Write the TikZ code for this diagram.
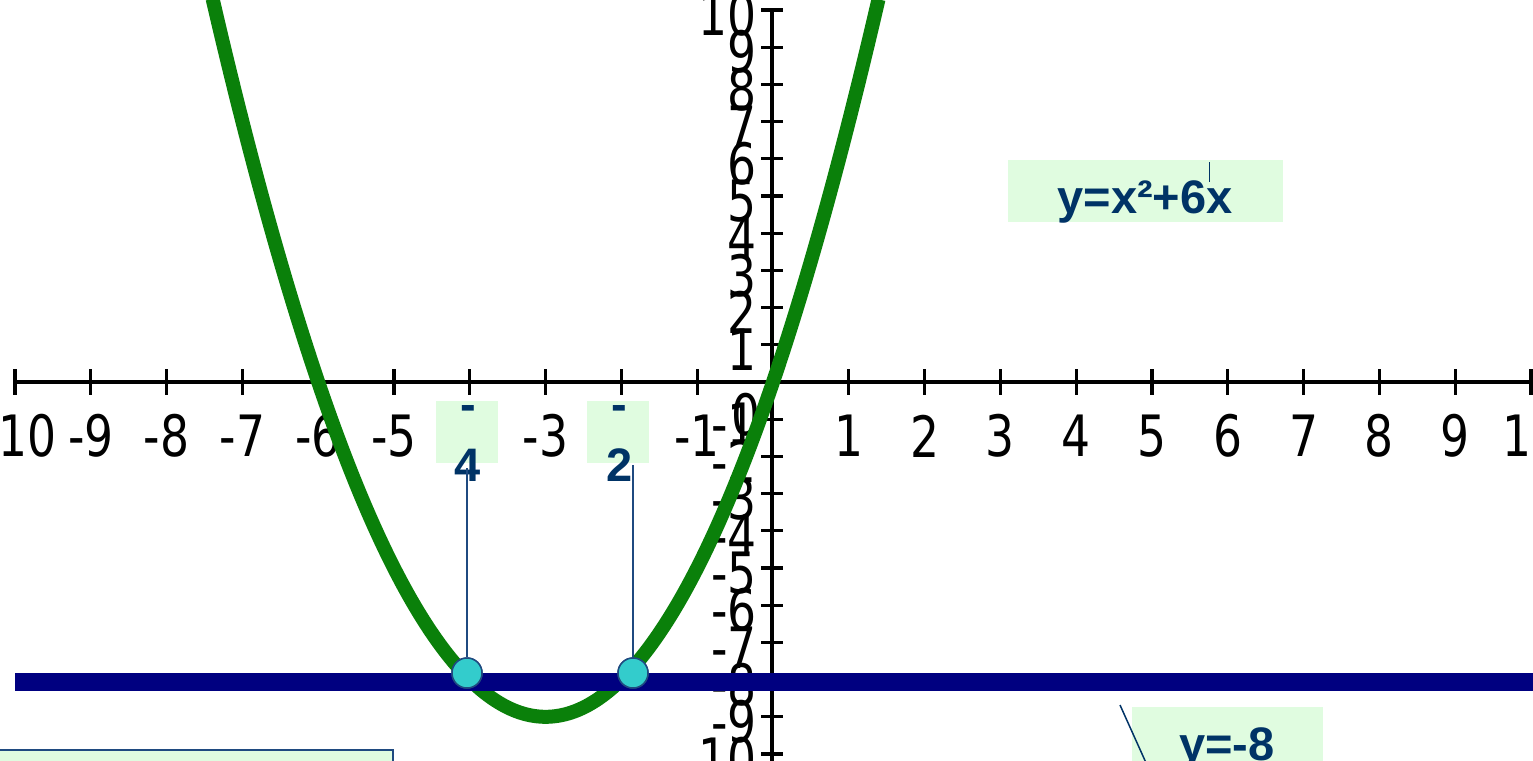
\documentclass[tikz,border=0pt]{standalone}
\usepackage{fontspec}
\setmainfont{Liberation Sans}
\newfontfamily\axisfont{DejaVu Sans}
\definecolor{curvegreen}{HTML}{0A800A}
\definecolor{linenavy}{HTML}{000080}
\definecolor{txtblue}{HTML}{003366}
\definecolor{boxgreen}{HTML}{E0FCE0}
\definecolor{ptcyan}{HTML}{33CCCC}
\definecolor{edgeblue}{HTML}{1F4A80}
\tikzset{
  axisline/.style={black, line width=3.2pt},
  axlbl/.style={font=\axisfont\fontsize{57pt}{57pt}\selectfont, xscale=0.8, inner sep=0pt, text=black},
  lblbox/.style={fill=boxgreen, minimum width=62pt, minimum height=62pt, inner sep=0pt},
  boldtxt/.style={font=\bfseries\fontsize{47pt}{47pt}\selectfont, text=txtblue, inner sep=0pt},
  vline/.style={edgeblue, line width=1.5pt},
  ptdot/.style={circle, minimum size=30pt, inner sep=0pt, fill=ptcyan, draw=edgeblue, line width=1.5pt},
  curveline/.style={curvegreen, line width=14pt},
  navyline/.style={linenavy, line width=18pt}
}
\begin{document}
\begin{tikzpicture}[x=1pt,y=-1pt]
\fill[white] (0,0) rectangle (1533,760);
\useasboundingbox (0,0) rectangle (1533,760);
\clip (0,0) rectangle (1533,760);
% axes
\draw[axisline] (15,382) -- (1545,382);
\draw[axisline] (772,12) -- (772,775);
\foreach \i in {-10,...,10}
  \draw[axisline] ({773+75.8*\i},369) -- ({773+75.8*\i},395);
\foreach \j in {-10,...,10}
  \draw[axisline] (761,{382-37.2*\j}) -- (783,{382-37.2*\j});
% x labels
\node[axlbl] (xl-10) at (19,436) {-10};
\foreach \i in {-9,-8,-7,-6,-5,-3,-1,1,2,3,4,5,6,7,8,9,10}
  \node[axlbl] (xl\i) at ({773+75.8*\i},436) {\i};
% y labels
\foreach \j in {-10,-9,-8,-7,-6,-5,-4,-3,-2,-1,1,2,3,4,5,6,7,8,9,10}
  \node[axlbl, anchor=east] (yl\j) at (757,{387-37.2*\j}) {\j};
\node[axlbl, anchor=east] (yl0) at (761,415) {0};
% parabola
\begin{scope}[shift={(773,382)}, x=75.8pt, y=37.2pt]
  \draw[curveline] plot[domain={-3-sqrt(19.3)}:{-3+sqrt(19.3)}, samples=120, smooth] (\x, {\x*\x+6*\x});
\end{scope}
% line y=-8
\coordinate (nl) at (15,682);
\coordinate (nr) at (1545,682);
\draw[navyline] (nl) -- (nr);
% label boxes
\node[lblbox] (b4) at (467,432) {};
\node[lblbox] (b2) at (618,432) {};
\node[boldtxt, anchor=base] (m4) at (468,420) {-};
\node[boldtxt, anchor=base] (d4) at (468,481) {4};
\node[boldtxt, anchor=base] (m2) at (619,420) {-};
\node[boldtxt, anchor=base] (d2) at (620,481) {2};
% points and guides
\node[ptdot] (p4) at (467,673) {};
\node[ptdot] (p2) at (633,673) {};
\coordinate (t4) at (467,468);
\coordinate (t2) at (633,465);
\draw[vline] (t4) -- (p4.north);
\draw[vline] (t2) -- (p2.north);
\node[ptdot] at (p4) {};
\node[ptdot] at (p2) {};
% equation boxes
\node[fill=boxgreen, minimum width=275pt, minimum height=62pt, inner sep=0pt] (eqbox) at (1145.5,191) {};
\node[boldtxt, anchor=base] (eq) at (1145,213) {y=x²+6x};
\coordinate (c1) at (1209,162);
\coordinate (c2) at (1209,182);
\draw[txtblue, line width=1pt] (c1) -- (c2);
\node[fill=boxgreen, minimum width=191pt, minimum height=60pt, inner sep=0pt, anchor=north west] (lnbox) at (1132,707) {};
\node[boldtxt, anchor=base] (ln) at (1227,760) {y=-8};
\coordinate (s1) at (1120,705);
\coordinate (s2) at (1147,765);
\draw[txtblue, line width=1.5pt] (s1) -- (s2);
% bottom-left box
\node[fill=boxgreen, draw=edgeblue, line width=2pt, minimum width=400pt, minimum height=40pt, inner sep=0pt, anchor=north west] (blbox) at (-8,749) {};
\end{tikzpicture}
\end{document}
